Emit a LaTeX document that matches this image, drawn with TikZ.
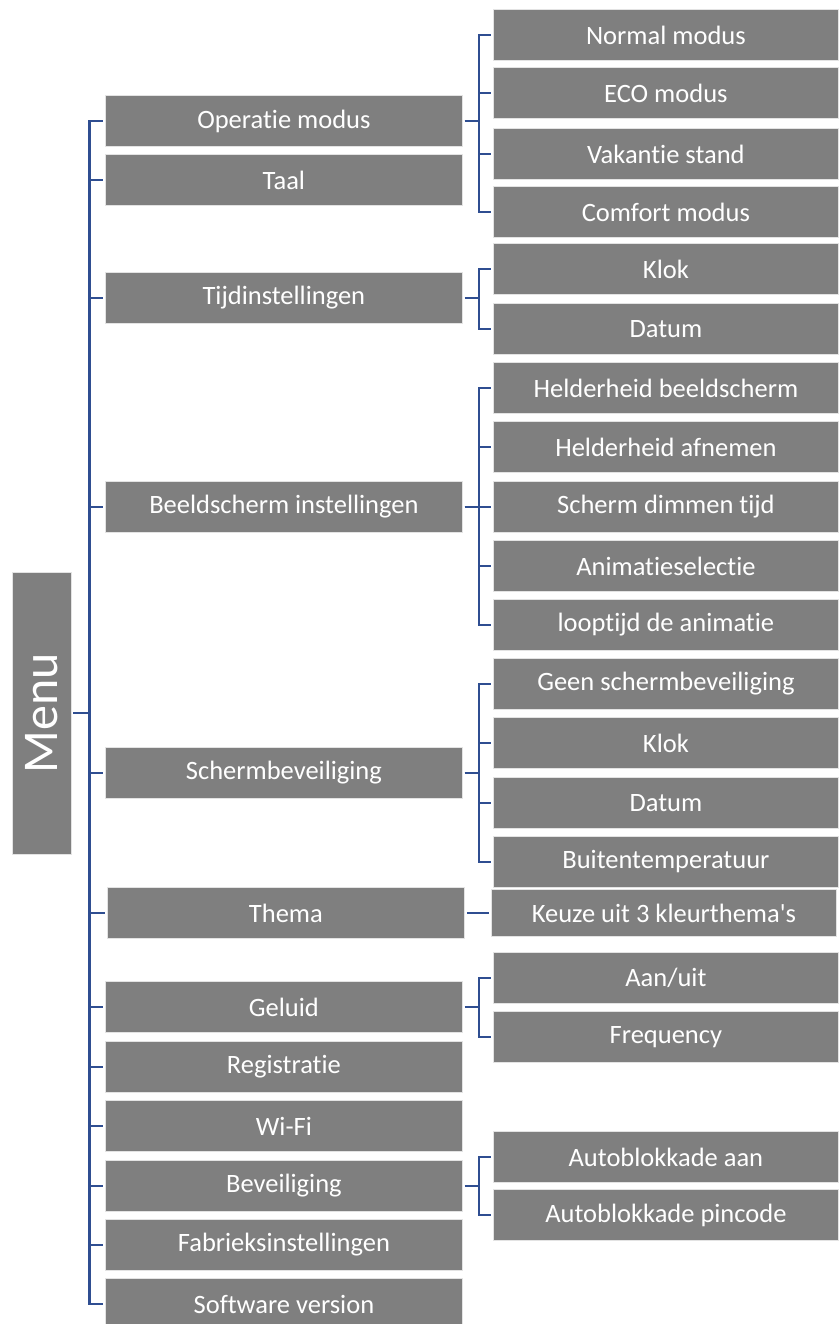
\documentclass[tikz,border=0pt]{standalone}
\usepackage{fontspec}
\setmainfont{Carlito}[Ligatures={TeXOff, NoCommon}]
\definecolor{boxgray}{RGB}{127,127,127}
\definecolor{linkblue}{RGB}{47,78,145}

\begin{document}
\begin{tikzpicture}[x=1pt, y=-1pt,
    item/.style={rectangle, fill=boxgray, draw=white!78!gray, line width=0.8pt, text=white,
      font=\fontsize{26.5}{30}\selectfont, minimum height=51pt, inner sep=0pt, anchor=west},
    leftitem/.style={item, minimum width=357pt},
    rightitem/.style={item, minimum width=345pt},
    link/.style={draw=linkblue, line width=2.3pt}]
      \useasboundingbox (0, 0) rectangle (838, 1324);

      \node[rectangle, fill=boxgray, draw=white!78!gray, line width=0.8pt, text=white, rotate=90,
        minimum width=282pt, minimum height=59pt, font=\fontsize{50}{56}\selectfont] (menu) at (41.5, 713) {Menu};

      % first level
      \node[leftitem] (op) at (105, 121) {Operatie modus};
      \node[leftitem] (taal) at (105, 180) {Taal};
      \node[leftitem] (tijd) at (105, 298) {Tijdinstellingen};
      \node[leftitem] (beeld) at (105, 507) {Beeldscherm instellingen};
      \node[leftitem] (scherm) at (105, 773) {Schermbeveiliging};
      \node[leftitem] (thema) at (107, 913) {Thema};
      \node[leftitem] (geluid) at (105, 1007) {Geluid};
      \node[leftitem] (reg) at (105, 1067) {Registratie};
      \node[leftitem] (wifi) at (105, 1126) {Wi-Fi};
      \node[leftitem] (bev) at (105, 1186) {Beveiliging};
      \node[leftitem] (fabriek) at (105, 1245) {Fabrieksinstellingen};
      \node[leftitem] (soft) at (105, 1304) {Software version};

      % second level
      \node[rightitem] (normal) at (493, 35) {Normal modus};
      \node[rightitem] (eco) at (493, 93) {ECO modus};
      \node[rightitem] (vak) at (493, 154) {Vakantie stand};
      \node[rightitem] (comfort) at (493, 212) {Comfort modus};
      \node[rightitem] (klok) at (493, 269) {Klok};
      \node[rightitem] (datum) at (493, 329) {Datum};
      \node[rightitem] (hbeeld) at (493, 388) {Helderheid beeldscherm};
      \node[rightitem] (hafn) at (493, 447) {Helderheid afnemen};
      \node[rightitem] (dimm) at (493, 507) {Scherm dimmen tijd};
      \node[rightitem] (anim) at (493, 566) {Animatieselectie};
      \node[rightitem] (loop) at (493, 625) {looptijd de animatie};
      \node[rightitem] (geen) at (493, 684) {Geen schermbeveiliging};
      \node[rightitem] (sklok) at (493, 743) {Klok};
      \node[rightitem] (sdatum) at (493, 803) {Datum};
      \node[rightitem] (buiten) at (493, 862) {Buitentemperatuur};
      \node[rightitem, minimum height=47pt] (keuze) at (491, 913) {Keuze uit 3 kleurthema's};
      \node[rightitem] (aan) at (493, 978) {Aan/uit};
      \node[rightitem] (freq) at (493, 1037) {Frequency};
      \node[rightitem] (abaan) at (493, 1157) {Autoblokkade aan};
      \node[rightitem] (abpin) at (493, 1215) {Autoblokkade pincode};

      % connectors
      \foreach \c in {op, taal, tijd, beeld, scherm, thema, geluid, reg, wifi, bev, fabriek, soft}
        \draw[link] ([xshift=2pt]menu.south) -- ++(16, 0) |- ([xshift=-2pt]\c.west);
      \foreach \c in {normal, eco, vak, comfort}
        \draw[link] ([xshift=2pt]op.east) -- ++(14, 0) |- ([xshift=-2pt]\c.west);
      \foreach \c in {klok, datum}
        \draw[link] ([xshift=2pt]tijd.east) -- ++(14, 0) |- ([xshift=-2pt]\c.west);
      \foreach \c in {hbeeld, hafn, dimm, anim, loop}
        \draw[link] ([xshift=2pt]beeld.east) -- ++(14, 0) |- ([xshift=-2pt]\c.west);
      \foreach \c in {geen, sklok, sdatum, buiten}
        \draw[link] ([xshift=2pt]scherm.east) -- ++(14, 0) |- ([xshift=-2pt]\c.west);
      \draw[link] ([xshift=2pt]thema.east) -- ([xshift=-2pt]keuze.west);
      \foreach \c in {aan, freq}
        \draw[link] ([xshift=2pt]geluid.east) -- ++(14, 0) |- ([xshift=-2pt]\c.west);
      \foreach \c in {abaan, abpin}
        \draw[link] ([xshift=2pt]bev.east) -- ++(14, 0) |- ([xshift=-2pt]\c.west);
    \end{tikzpicture}
\end{document}
